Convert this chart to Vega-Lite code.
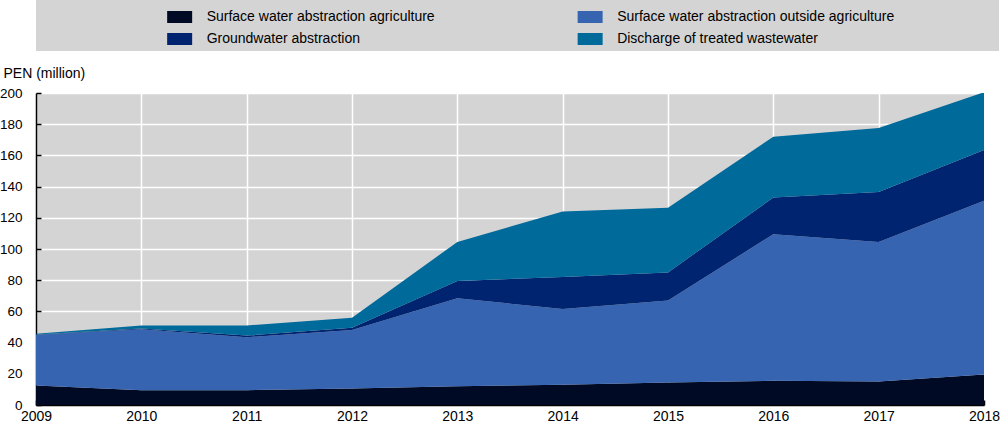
{
  "$schema": "https://vega.github.io/schema/vega-lite/v6.json",
  "padding": {"left": -1, "top": 0, "right": 0, "bottom": 0},
  "background": "white",
  "spacing": 15,
  "config": {
    "font": "Liberation Sans",
    "concat": {"spacing": 15},
    "axis": {
      "labelFont": "Liberation Sans",
      "labelFontSize": 14,
      "labelColor": "black",
      "domainColor": "black",
      "domainWidth": 1.5,
      "tickColor": "black",
      "tickWidth": 1.5,
      "gridColor": "white",
      "gridWidth": 1.5,
      "gridOpacity": 1
    }
  },
  "datasets": {
    "water": [
      {"year": 2009, "series": "Surface water abstraction agriculture", "value": 12.5},
      {"year": 2009, "series": "Surface water abstraction outside agriculture", "value": 32.5},
      {"year": 2009, "series": "Groundwater abstraction", "value": 0.2},
      {"year": 2009, "series": "Discharge of treated wastewater", "value": 0.5},
      {"year": 2010, "series": "Surface water abstraction agriculture", "value": 9.5},
      {"year": 2010, "series": "Surface water abstraction outside agriculture", "value": 39},
      {"year": 2010, "series": "Groundwater abstraction", "value": 0.5},
      {"year": 2010, "series": "Discharge of treated wastewater", "value": 2},
      {"year": 2011, "series": "Surface water abstraction agriculture", "value": 9.5},
      {"year": 2011, "series": "Surface water abstraction outside agriculture", "value": 34},
      {"year": 2011, "series": "Groundwater abstraction", "value": 1},
      {"year": 2011, "series": "Discharge of treated wastewater", "value": 6.5},
      {"year": 2012, "series": "Surface water abstraction agriculture", "value": 10.5},
      {"year": 2012, "series": "Surface water abstraction outside agriculture", "value": 37.5},
      {"year": 2012, "series": "Groundwater abstraction", "value": 1.5},
      {"year": 2012, "series": "Discharge of treated wastewater", "value": 6.5},
      {"year": 2013, "series": "Surface water abstraction agriculture", "value": 12},
      {"year": 2013, "series": "Surface water abstraction outside agriculture", "value": 56.5},
      {"year": 2013, "series": "Groundwater abstraction", "value": 11},
      {"year": 2013, "series": "Discharge of treated wastewater", "value": 25},
      {"year": 2014, "series": "Surface water abstraction agriculture", "value": 13},
      {"year": 2014, "series": "Surface water abstraction outside agriculture", "value": 48.5},
      {"year": 2014, "series": "Groundwater abstraction", "value": 20.5},
      {"year": 2014, "series": "Discharge of treated wastewater", "value": 42},
      {"year": 2015, "series": "Surface water abstraction agriculture", "value": 14.5},
      {"year": 2015, "series": "Surface water abstraction outside agriculture", "value": 52.5},
      {"year": 2015, "series": "Groundwater abstraction", "value": 18},
      {"year": 2015, "series": "Discharge of treated wastewater", "value": 41.5},
      {"year": 2016, "series": "Surface water abstraction agriculture", "value": 15.5},
      {"year": 2016, "series": "Surface water abstraction outside agriculture", "value": 94},
      {"year": 2016, "series": "Groundwater abstraction", "value": 23.5},
      {"year": 2016, "series": "Discharge of treated wastewater", "value": 39},
      {"year": 2017, "series": "Surface water abstraction agriculture", "value": 15},
      {"year": 2017, "series": "Surface water abstraction outside agriculture", "value": 89.5},
      {"year": 2017, "series": "Groundwater abstraction", "value": 32},
      {"year": 2017, "series": "Discharge of treated wastewater", "value": 41},
      {"year": 2018, "series": "Surface water abstraction agriculture", "value": 19.5},
      {"year": 2018, "series": "Surface water abstraction outside agriculture", "value": 111.5},
      {"year": 2018, "series": "Groundwater abstraction", "value": 32.5},
      {"year": 2018, "series": "Discharge of treated wastewater", "value": 37}
    ]
  },
  "vconcat": [
    {
      "width": 963,
      "height": 51,
      "view": {"fill": "#d4d4d4", "stroke": null},
      "data": {"name": "water"},
      "transform": [
        {"filter": "datum.year == 2009"},
        {"calculate": "indexof(['Surface water abstraction agriculture','Groundwater abstraction','Surface water abstraction outside agriculture','Discharge of treated wastewater'], datum.series)", "as": "idx"},
        {"calculate": "floor(datum.idx / 2)", "as": "col"},
        {"calculate": "datum.idx % 2", "as": "row"}
      ],
      "encoding": {
        "x": {"field": "col", "type": "ordinal", "axis": null,
              "scale": {"type": "point", "domain": [0, 1], "padding": 0.673, "align": 0.26}},
        "y": {"field": "row", "type": "ordinal", "axis": null,
              "scale": {"type": "point", "domain": [0, 1], "padding": 0.659, "align": 0.586}}
      },
      "layer": [
        {
          "mark": {"type": "point", "shape": "M-1,-0.48H1V0.48H-1Z", "filled": true, "opacity": 1, "size": 625},
          "encoding": {
            "color": {
              "field": "series", "type": "nominal", "legend": null,
              "scale": {
                "domain": ["Surface water abstraction agriculture", "Surface water abstraction outside agriculture", "Groundwater abstraction", "Discharge of treated wastewater"],
                "range": ["#000a24", "#3764b0", "#00246f", "#006a9b"]
              }
            }
          }
        },
        {
          "mark": {"type": "text", "align": "left", "baseline": "middle", "dx": 27, "fontSize": 14, "font": "Liberation Sans", "color": "black"},
          "encoding": {"text": {"field": "series"}}
        }
      ]
    },
    {
      "width": 948,
      "height": 312,
      "view": {"fill": "#d4d4d4", "stroke": null},
      "data": {"name": "water"},
      "transform": [
        {"calculate": "indexof(['Surface water abstraction agriculture','Surface water abstraction outside agriculture','Groundwater abstraction','Discharge of treated wastewater'], datum.series)", "as": "stackOrder"}
      ],
      "mark": {"type": "area", "interpolate": "linear", "clip": true, "opacity": 1},
      "encoding": {
        "x": {
          "field": "year", "type": "quantitative",
          "scale": {"domain": [2009, 2018], "nice": false, "zero": false},
          "axis": {
            "title": null, "format": "d",
            "values": [2009, 2010, 2011, 2012, 2013, 2014, 2015, 2016, 2017, 2018],
            "tickSize": -5, "labelPadding": 9, "grid": true, "labelFlush": false
          }
        },
        "y": {
          "field": "value", "type": "quantitative", "stack": "zero",
          "scale": {"domain": [0, 200], "nice": false},
          "axis": {
            "title": "PEN (million)", "titleAngle": 0, "titleAlign": "left", "titleBaseline": "middle",
            "titleX": -33, "titleY": -20, "titleFont": "Liberation Sans", "titleFontSize": 14,
            "titleFontWeight": "normal", "titleColor": "black",
            "values": [0, 20, 40, 60, 80, 100, 120, 140, 160, 180, 200],
            "labelFontSize": 13.5,
            "tickSize": -5, "labelPadding": 19, "grid": true
          }
        },
        "order": {"field": "stackOrder", "type": "quantitative", "sort": "ascending"},
        "color": {
          "field": "series", "type": "nominal", "legend": null,
          "scale": {
            "domain": ["Surface water abstraction agriculture", "Surface water abstraction outside agriculture", "Groundwater abstraction", "Discharge of treated wastewater"],
            "range": ["#000a24", "#3764b0", "#00246f", "#006a9b"]
          }
        }
      }
    }
  ]
}
